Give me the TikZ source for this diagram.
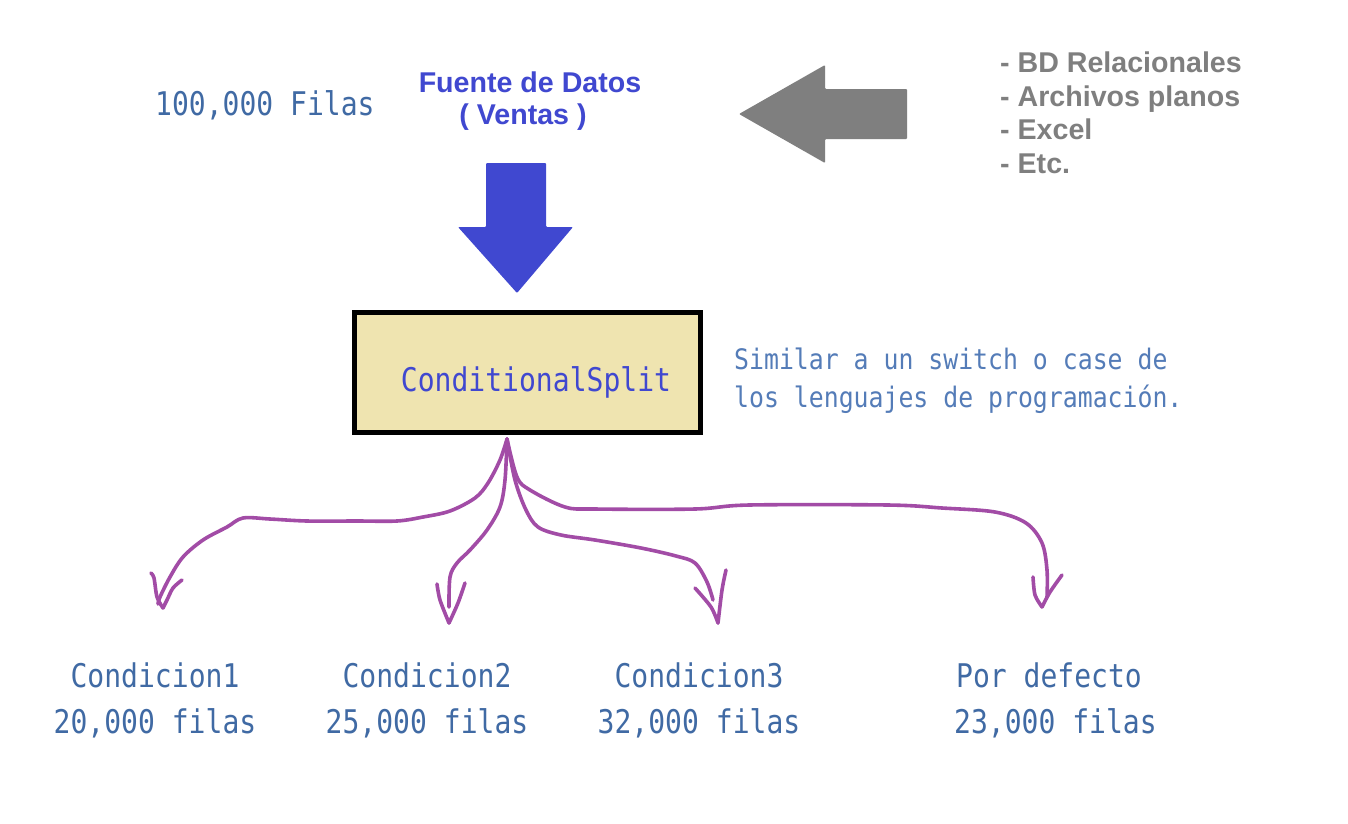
\documentclass[tikz,border=0pt]{standalone}
\usepackage{fontspec}
\setmainfont{Liberation Sans}
\newfontfamily\monof[FakeStretch=0.86]{DejaVu Sans Mono}
\newfontfamily\monolite[FakeStretch=0.88]{DejaVu Sans Mono}
\definecolor{dblue}{RGB}{64,72,208}
\definecolor{steel}{RGB}{64,106,164}
\definecolor{steellite}{RGB}{84,124,184}
\definecolor{grayar}{RGB}{127,127,127}
\definecolor{tanfill}{RGB}{239,228,176}
\definecolor{purp}{RGB}{162,76,166}
\tikzset{
  monolabel/.style={inner sep=0, text=steel, font=\monof\fontsize{32.6}{46}\selectfont},
  notelabel/.style={inner sep=0, text=steellite, font=\monolite\fontsize{28.2}{38}\selectfont},
  graylabel/.style={inner sep=0, text=grayar, font=\bfseries\fontsize{28.6}{34}\selectfont, anchor=base west},
  titlelabel/.style={inner sep=0, text=dblue, font=\bfseries\fontsize{28.6}{34}\selectfont, anchor=base},
  splitbox/.style={draw=black, line width=5, fill=tanfill, minimum width=346, minimum height=120, inner sep=0},
  handline/.style={draw=purp, line width=3.6, line cap=round, line join=round},
}
\begin{document}
\begin{tikzpicture}[x=1pt,y=-1pt]
\useasboundingbox[fill=white] (0,0) rectangle (1348,823);

% titles
\node[monolabel, anchor=base west] (rows) at (155,115) {100,000 Filas};
\node[titlelabel] (src1) at (530,92) {Fuente de Datos};
\node[titlelabel] (src2) at (523,124) {( Ventas )};

% gray list
\node[graylabel] (g1) at (1000,72) {- BD Relacionales};
\node[graylabel] (g2) at (1000,106) {- Archivos planos};
\node[graylabel] (g3) at (1000,139) {- Excel};
\node[graylabel] (g4) at (1000,173) {- Etc.};

% gray arrow
\fill[grayar, rounded corners=1] (739,114) -- (825,65) -- (825,89) -- (907,89) -- (907,139) -- (825,139) -- (825,163) -- cycle;

% blue arrow
\fill[dblue, rounded corners=1] (486,163) -- (546,163) -- (546,227) -- (573,227) -- (517,293) -- (458,227) -- (486,227) -- cycle;

% box
\node[splitbox, anchor=center] (box) at (527.5,372.5) {};
\node[inner sep=0, text=dblue, font=\monof\fontsize{32.6}{46}\selectfont, anchor=base] (split) at (536,391) {ConditionalSplit};

% note
\node[notelabel, anchor=base west] (note1) at (734,369) {Similar a un switch o case de};
\node[notelabel, anchor=base west] (note2) at (734,407) {los lenguajes de programación.};

% bottom labels
\node[monolabel, anchor=base] (c1) at (155,687) {Condicion1};
\node[monolabel, anchor=base] (n1) at (155,733) {20,000 filas};
\node[monolabel, anchor=base] (c2) at (427,687) {Condicion2};
\node[monolabel, anchor=base] (n2) at (427,733) {25,000 filas};
\node[monolabel, anchor=base] (c3) at (699,687) {Condicion3};
\node[monolabel, anchor=base] (n3) at (699,733) {32,000 filas};
\node[monolabel, anchor=base west] (c4) at (956,687) {Por defecto};
\node[monolabel, anchor=base west] (n4) at (954,733) {23,000 filas};

% hand drawn arrows
\coordinate (o) at (507,439);
\coordinate (t1) at (163,608);
\coordinate (t2) at (449,623);
\coordinate (t3) at (718,623);
\coordinate (t4) at (1042,607);

\draw[handline] plot[smooth, tension=0.55] coordinates {(o) (500,460) (488,483) (475,498) (450,511) (423,517) (397,521) (357,521) (307,521) (270,519) (243,518) (227,527) (203,540) (183,557) (170,577) (160,597) (158,604)};
\draw[handline] plot[smooth, tension=0.5] coordinates {(151,573) (154,578) (157,597) (t1)};
\draw[handline] plot[smooth, tension=0.5] coordinates {(182,580) (173,588) (167,600) (t1)};

\draw[handline] plot[smooth, tension=0.55] coordinates {(o) (505,480) (500,507) (487,530) (470,550) (457,563) (450,577) (449,607)};
\draw[handline] plot[smooth, tension=0.5] coordinates {(437,584) (440,600) (t2)};
\draw[handline] plot[smooth, tension=0.5] coordinates {(465,583) (458,603) (t2)};

\draw[handline] plot[smooth, tension=0.55] coordinates {(o) (515,480) (526,510) (538,527) (561,535) (595,540) (641,548) (676,556) (695,563) (707,582) (713,600)};
\draw[handline] plot[smooth, tension=0.5] coordinates {(695,588) (711,607) (t3)};
\draw[handline] plot[smooth, tension=0.5] coordinates {(726,570) (722,590) (t3)};

\draw[handline] plot[smooth, tension=0.55] coordinates {(o) (517,477) (530,490) (565,507) (595,509) (695,509) (749,505) (888,505) (942,508) (995,512) (1026,523) (1042,543) (1047,570) (1047,597)};
\draw[handline] plot[smooth, tension=0.5] coordinates {(1033,577) (1035,595) (t4)};
\draw[handline] plot[smooth, tension=0.5] coordinates {(1062,575) (1050,592) (t4)};
\end{tikzpicture}
\end{document}
